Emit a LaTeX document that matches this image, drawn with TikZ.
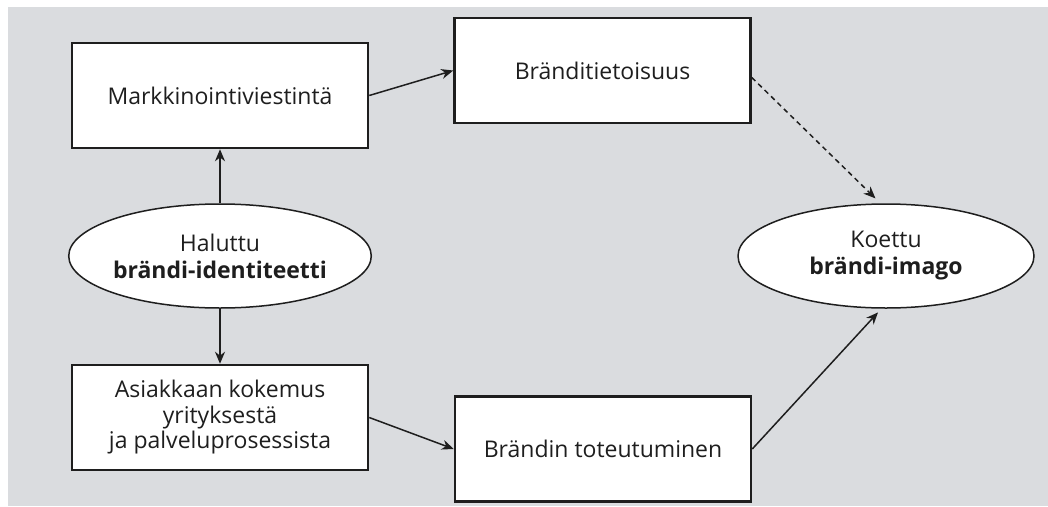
\documentclass[tikz,border=0pt]{standalone}
\usepackage{fontspec}
\setmainfont{Open Sans}
\usetikzlibrary{arrows.meta,positioning,shapes.geometric}
\definecolor{panelgray}{RGB}{218,220,223}
\definecolor{ink}{RGB}{30,30,30}

\begin{document}
\begin{tikzpicture}[x=1pt, y=-1pt,
  box/.style={draw=ink, line width=2.5pt, fill=white, minimum width=296pt, minimum height=105pt, align=center, text=ink, font=\fontsize{23}{25.5}\selectfont},
  goal/.style={ellipse, draw=ink, line width=1.5pt, fill=white, minimum width=296pt, minimum height=104pt, inner sep=0pt, align=center, text=ink, font=\fontsize{23}{27}\selectfont},
  arrow/.style={-{Stealth[length=12pt, width=10pt]}, line width=1.5pt, ink},
  stem/.style={arrow, line width=2.6pt}]

\useasboundingbox (0,0) rectangle (1048,506);
\fill[panelgray] (8,7) rectangle (1048,506);

\node[goal] (hal) at (220,256) {Haluttu\\ \textbf{brändi-identiteetti}};
\node[box, above=54pt of hal] (mark) {Markkinointiviestintä};
\node[box, below=55pt of hal] (asiak) {Asiakkaan kokemus\\ yrityksestä\\ ja palveluprosessista};
\node[box] (tiet) at (602.5,70.5) {Bränditietoisuus};
\node[box] (tot) at (603,449) {Brändin toteutuminen};
\node[goal] (koe) at (886,256) {Koettu\\ \textbf{brändi-imago}};

\draw[stem] (hal) -- (mark);
\draw[stem] (hal) -- (asiak);
\draw[arrow] (mark.east) -- (tiet.west);
\draw[arrow] (asiak.east) -- (tot.west);
\draw[arrow, dash pattern=on 5pt off 4pt, shorten >=7pt] ([yshift=-7pt]tiet.east) -- (koe.96);
\draw[arrow, shorten >=5pt] (tot.east) -- (koe.-95);
\end{tikzpicture}
\end{document}
